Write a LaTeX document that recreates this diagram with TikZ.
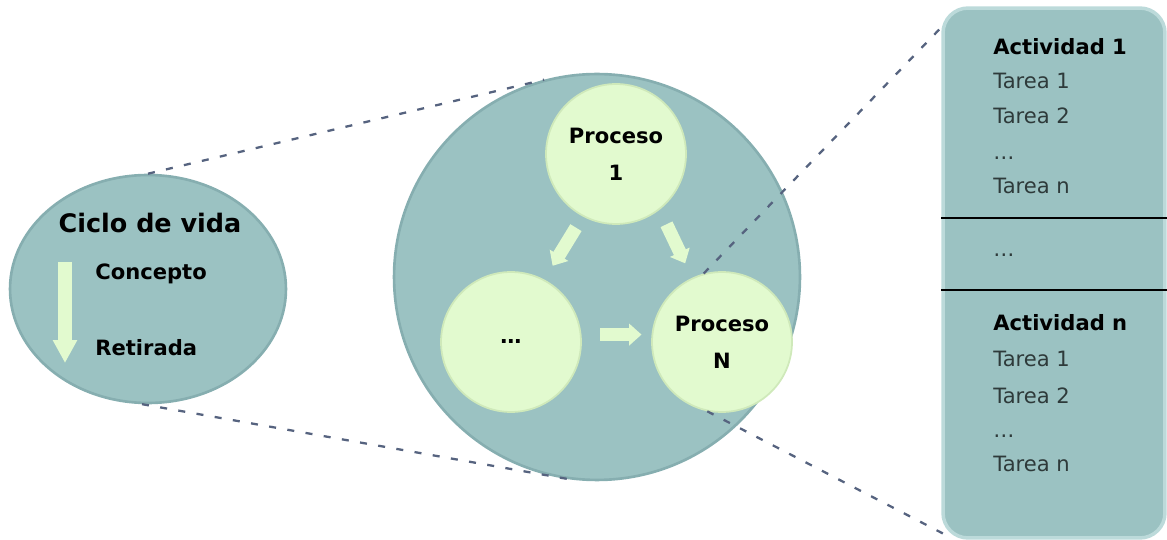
\documentclass[tikz,border=0pt]{standalone}
\usepackage{fontspec}
\setmainfont{DejaVu Sans}
\usetikzlibrary{arrows.meta,shapes.geometric}
\definecolor{fondo}{HTML}{9BC2C2}
\definecolor{borde}{HTML}{86AEB0}
\definecolor{bordeclaro}{HTML}{BCDADA}
\definecolor{verde}{HTML}{E2FACF}
\definecolor{verdeborde}{HTML}{CFE9BA}
\definecolor{guion}{HTML}{56637F}
\definecolor{tarea}{HTML}{2E3A3A}
\tikzset{
  fase/.style={circle,fill=fondo,draw=borde,line width=1.5pt,minimum size=8.12cm,inner sep=0pt},
  ciclo/.style={ellipse,fill=fondo,draw=borde,line width=1.5pt,minimum width=5.52cm,minimum height=4.56cm,inner sep=0pt},
  panel/.style={rectangle,rounded corners=0.5cm,fill=fondo,draw=bordeclaro,line width=2pt,minimum width=4.44cm,minimum height=10.6cm,inner sep=0pt},
  proceso/.style={circle,fill=verde,draw=verdeborde,line width=1pt,minimum size=2.8cm,inner sep=0pt,align=center,font=\bfseries\fontsize{12}{21}\selectfont},
  flecha/.style={draw=verde,line width=7.5pt,-{Triangle[width=12pt,length=7pt]}},
  bajada/.style={draw=verde,line width=8.5pt,-{Triangle[width=13pt,length=13pt]}},
  zoom/.style={draw=guion,line width=1.3pt,dash pattern=on 4pt off 6.5pt},
  divisor/.style={draw=black,line width=1.3pt},
  titulo/.style={anchor=base,inner sep=0pt,font=\bfseries\fontsize{14.5}{17}\selectfont},
  etapa/.style={anchor=base west,inner sep=0pt,font=\bfseries\fontsize{12}{14}\selectfont},
  act/.style={anchor=base west,inner sep=0pt,font=\bfseries\fontsize{12}{14}\selectfont},
  txt/.style={anchor=base west,inner sep=0pt,text=tarea,font=\fontsize{12}{14}\selectfont}
}
\begin{document}
\begin{tikzpicture}[x=0.02cm,y=-0.02cm]
  \useasboundingbox (0,0) rectangle (1167,540);
  \node[fase] (fase) at (597,277) {};
  \node[ciclo] (ciclo) at (148,289) {};
  \node[panel] (panel) at (1054,273) {};
  % ciclo de vida
  \node[titulo] (vida) at (150,233) {Ciclo de vida};
  \node[etapa] (concepto) at (95,280) {Concepto};
  \node[etapa] (retirada) at (95,356) {Retirada};
  \coordinate (ini) at (65,262);
  \coordinate (fin) at (65,363);
  \draw[bajada] (ini) -- (fin);
  % procesos
  \node[proceso] (p1) at (616,154) {Proceso\\1};
  \node[proceso] (dots) at (511,342) {\dots};
  \node[proceso] (pN) at (722,342) {Proceso\\N};
  \begin{scope}[flecha]
    \draw[shorten <=0.26cm,shorten >=0.32cm] (p1.-118) to (dots.62);
    \draw[shorten <=0.32cm,shorten >=0.32cm] (p1.-52) to (pN.115);
    \draw[shorten <=0.38cm,shorten >=0.2cm] (dots.6) to (pN.174);
  \end{scope}
  % lineas de zoom
  \begin{scope}[zoom]
    \draw (ciclo.north) to (fase.105);
    \draw (ciclo.-93) to (fase.-97);
    \draw (pN.105) to ([xshift=0.06cm,yshift=-0.36cm]panel.north west);
    \draw (pN.-102) to ([xshift=0.08cm,yshift=0.1cm]panel.south west);
  \end{scope}
  % actividades
  \draw[divisor] (panel.west |- 0,218) -- (panel.east |- 0,218);
  \draw[divisor] (panel.west |- 0,290) -- (panel.east |- 0,290);
  \draw
    (993,55) node[act] (act1){Actividad 1}
    (993,89) node[txt] (t11){Tarea 1}
    (993,124) node[txt] (t12){Tarea 2}
    (993,160) node[txt] (t1d){\dots}
    (993,194) node[txt] (t1n){Tarea n}
    (993,257) node[txt] (actd){\dots}
    (993,331) node[act] (actn){Actividad n}
    (993,367) node[txt] (tn1){Tarea 1}
    (993,404) node[txt] (tn2){Tarea 2}
    (993,438) node[txt] (tnd){\dots}
    (993,472) node[txt] (tnn){Tarea n};
\end{tikzpicture}
\end{document}
